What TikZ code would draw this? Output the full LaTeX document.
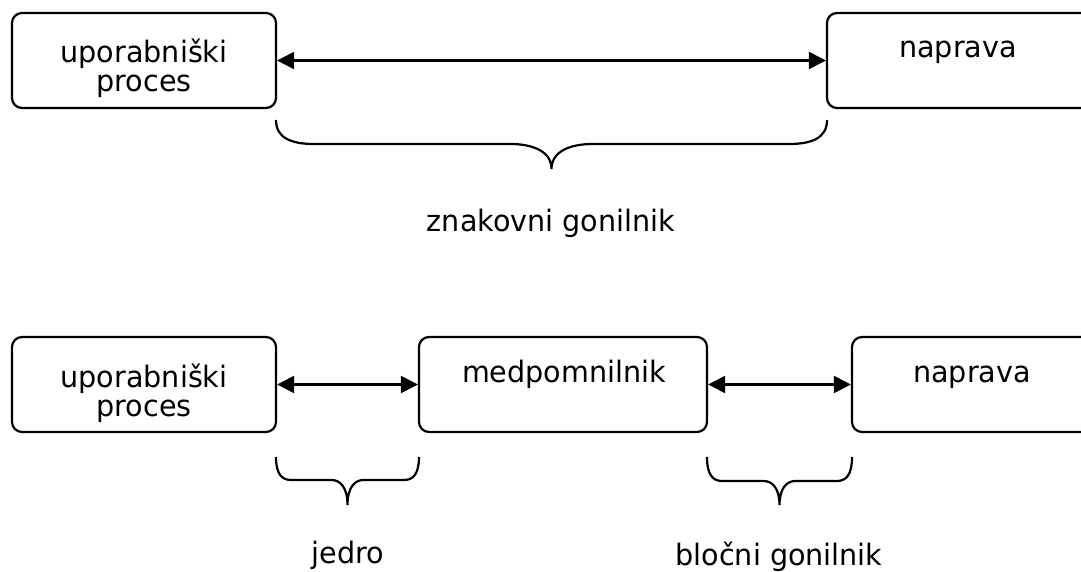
\documentclass[tikz,border=0pt]{standalone}
\usepackage{fontspec}
\setmainfont{DejaVu Sans}[FakeStretch=0.97]
\usetikzlibrary{arrows.meta,calc}
\tikzset{
  box/.style={draw, line width=2.2pt, rounded corners=10pt, inner sep=0pt, minimum height=95pt},
  lbl/.style={inner sep=0pt, anchor=base, font=\fontsize{29.5}{29.5}\selectfont},
  conn/.style={line width=2.2pt, {Triangle[length=17pt,width=17pt]}-{Triangle[length=17pt,width=17pt]}},
  bracestyle/.style={line width=2.2pt}
}
% x1, x2, ytop, ymid, ytip, r1 (end curve width), r2 (middle curve half width)
\newcommand\mybracepath[7]{%
  \pgfmathsetmacro\bxm{(#1+#2)/2}%
  \draw[bracestyle] (#1,#3)
    .. controls (#1,{#3+0.75*(#4-#3)}) and ({#1+0.4*#6},#4) .. ({#1+#6},#4)
    -- ({\bxm-#7},#4)
    .. controls ({\bxm-0.45*#7},#4) and (\bxm,{#4+0.3*(#5-#4)}) .. (\bxm,#5)
    .. controls (\bxm,{#4+0.3*(#5-#4)}) and ({\bxm+0.45*#7},#4) .. ({\bxm+#7},#4)
    -- ({#2-#6},#4)
    .. controls ({#2-0.4*#6},#4) and (#2,{#3+0.75*(#4-#3)}) .. (#2,#3);
}
\begin{document}
\begin{tikzpicture}[x=1pt,y=-1pt]
\clip (0,0) rectangle (1081,572);
% top row
\node[box, minimum width=264pt] (up1) at (144,60.5) {};
\node[box, minimum width=264pt] (nap1) at (959,60.5) {};
\node[lbl] (t1a) at (144,63) {uporabniški};
\node[lbl] (t1b) at (144,92) {proces};
\node[lbl] (t1c) at (958,58) {naprava};
\draw[conn] (up1.east) -- (nap1.west);
\mybracepath{276}{827}{120}{144}{169}{38}{41}
\node[lbl] (zg) at (551,231) {znakovni gonilnik};
% bottom row
\node[box, minimum width=264pt] (up2) at (144,384.5) {};
\node[box, minimum width=288pt] (med) at (563,384.5) {};
\node[box, minimum width=240pt] (nap2) at (972,384.5) {};
\node[lbl] (t2a) at (144,387) {uporabniški};
\node[lbl] (t2b) at (144,416) {proces};
\node[lbl] (t2c) at (564,382) {medpomnilnik};
\node[lbl] (t2d) at (972,382) {naprava};
\draw[conn] (up2.east) -- (med.west);
\draw[conn] (med.east) -- (nap2.west);
\mybracepath{276}{419}{457}{480}{505}{15}{16}
\mybracepath{707}{852}{457}{481}{505}{15}{16}
\node[lbl] (je) at (348,563) {jedro};
\node[lbl] (bg) at (779,565) {bločni gonilnik};
\end{tikzpicture}
\end{document}
